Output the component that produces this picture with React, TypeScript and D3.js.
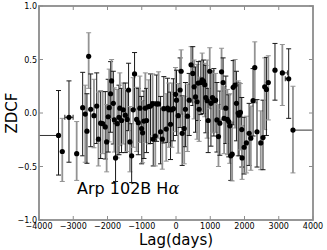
import React from "react";
import * as d3 from "d3";

// ZDCF points: lag (days), value, upper and lower error
const lags = [
  -3430, -3320, -3125, -2900, -2725, -2650, -2600, -2550, -2490, -2395,
  -2315, -2265, -2200, -2140, -2065, -2025, -1980, -1950, -1910, -1880,
  -1830, -1800, -1765, -1715, -1665, -1640, -1590, -1540, -1480, -1425,
  -1385, -1345, -1295, -1250, -1210, -1150, -1100, -1055, -1005, -975,
  -935, -895, -860, -800, -745, -685, -665, -605, -565, -510,
  -450, -400, -355, -285, -245, -210, -160, -120, -75, -15,
  15, 65, 120, 150, 180, 240, 275, 335, 385, 440,
  490, 530, 570, 615, 650, 675, 725, 765, 805, 840,
  870, 910, 940, 985, 1020, 1065, 1105, 1155, 1195, 1240,
  1280, 1330, 1375, 1405, 1455, 1500, 1540, 1570, 1600, 1640,
  1670, 1725, 1765, 1815, 1840, 1880, 1920, 1930, 1990, 2055,
  2135, 2185, 2250, 2300, 2365, 2475, 2540, 2590, 2640, 2695,
  2890, 3105, 3290, 3415,
];
const zdcf = [
  -0.21, -0.36, -0.04, -0.38, 0.05, -0.01, -0.17, 0.53, 0.035, -0.025,
  0.065, -0.245, -0.095, -0.1, -0.13, -0.27, -0.035, 0.05, 0.18, 0.3,
  0.09, -0.065, -0.42, -0.1, -0.04, 0.045, -0.07, 0.03, -0.02, -0.06,
  0.215, -0.27, -0.4, 0.03, 0.365, -0.06, -0.09, 0.045, -0.145, -0.185,
  -0.075, 0.045, -0.07, 0.06, 0.065, 0.085, -0.245, -0.215, 0.085, 0.085,
  -0.175, -0.245, 0.04, -0.15, 0.045, 0.03, -0.105, 0.03, 0.04, 0.175,
  0.12, -0.025, 0.215, 0.39, -0.19, -0.145, 0.035, -0.03, 0.12, 0.45,
  0.37, 0.245, 0.15, 0.105, 0.28, 0.035, 0.285, 0.31, 0.295, 0.265,
  0.145, 0.115, -0.07, 0.39, 0.09, 0.145, 0.115, 0.12, -0.065, -0.22,
  -0.095, 0.385, 0.285, -0.05, 0.045, -0.06, -0.08, -0.12, -0.4, -0.385,
  0.24, 0.26, 0.09, 0.0, -0.02, 0.005, -0.155, -0.42, -0.32, -0.28,
  -0.19, -0.235, 0.115, 0.425, -0.175, -0.28, -0.23, 0.245, 0.22, 0.285,
  0.4, 0.375, 0.32, -0.16,
];
const errUp = [
  0.42, 0.31, 0.34, 0.3, 0.33, 0.27, 0.35, 0.22, 0.33, 0.34,
  0.31, 0.44, 0.3, 0.3, 0.33, 0.35, 0.35, 0.36, 0.3, 0.2,
  0.3, 0.3, 0.32, 0.32, 0.3, 0.33, 0.3, 0.25, 0.3, 0.28,
  0.25, 0.33, 0.3, 0.3, 0.2, 0.3, 0.32, 0.3, 0.3, 0.3,
  0.28, 0.33, 0.3, 0.25, 0.3, 0.28, 0.35, 0.3, 0.27, 0.3,
  0.33, 0.3, 0.3, 0.33, 0.28, 0.25, 0.3, 0.25, 0.28, 0.25,
  0.28, 0.3, 0.3, 0.2, 0.35, 0.3, 0.25, 0.3, 0.25, 0.17,
  0.25, 0.25, 0.28, 0.35, 0.2, 0.3, 0.2, 0.25, 0.2, 0.2,
  0.3, 0.38, 0.3, 0.22, 0.3, 0.25, 0.3, 0.25, 0.35, 0.3,
  0.3, 0.22, 0.23, 0.3, 0.3, 0.28, 0.25, 0.3, 0.3, 0.3,
  0.25, 0.24, 0.3, 0.3, 0.3, 0.27, 0.3, 0.3, 0.28, 0.25,
  0.28, 0.3, 0.3, 0.24, 0.3, 0.3, 0.35, 0.27, 0.3, 0.25,
  0.25, 0.265, 0.28, 0.41,
];
const errDown = [
  0.37, 0.28, 0.42, 0.25, 0.45, 0.45, 0.3, 0.3, 0.35, 0.3,
  0.35, 0.25, 0.33, 0.28, 0.3, 0.28, 0.33, 0.32, 0.36, 0.35,
  0.38, 0.3, 0.22, 0.32, 0.35, 0.35, 0.3, 0.32, 0.35, 0.3,
  0.38, 0.28, 0.25, 0.35, 0.33, 0.3, 0.3, 0.32, 0.33, 0.28,
  0.35, 0.32, 0.3, 0.35, 0.35, 0.3, 0.25, 0.28, 0.35, 0.32,
  0.3, 0.28, 0.32, 0.3, 0.32, 0.35, 0.33, 0.35, 0.3, 0.35,
  0.33, 0.35, 0.35, 0.4, 0.3, 0.33, 0.35, 0.33, 0.33, 0.35,
  0.3, 0.3, 0.33, 0.35, 0.35, 0.3, 0.3, 0.3, 0.3, 0.3,
  0.33, 0.35, 0.3, 0.35, 0.4, 0.33, 0.33, 0.3, 0.3, 0.28,
  0.3, 0.35, 0.35, 0.33, 0.33, 0.33, 0.33, 0.35, 0.23, 0.25,
  0.35, 0.4, 0.35, 0.4, 0.38, 0.35, 0.35, 0.2, 0.25, 0.28,
  0.3, 0.3, 0.33, 0.33, 0.33, 0.25, 0.3, 0.4, 0.43, 0.35,
  0.28, 0.305, 0.37, 0.4,
];

// the few lag error bars that are wide enough to see
const lagBarIdx = [0, 2, 121, 122, 123];
const lagBarLeft = [600, 120, 0, 100, 0];
const lagBarRight = [0, 120, 150, 0, 600];

const xTicks = [-4000, -3000, -2000, -1000, 0, 1000, 2000, 3000, 4000];
const yTicks = [-1.0, -0.5, 0.0, 0.5, 1.0];

const W = 327;
const H = 250;
const margin = { top: 6, right: 14, bottom: 30, left: 39 };
const spine = "#8c8c8c";

export default function App() {
  const x = d3.scaleLinear().domain([-4000, 4000]).range([margin.left, W - margin.right]);
  const y = d3.scaleLinear().domain([-1, 1]).range([H - margin.bottom, margin.top]);
  const [x0, x1] = x.range();
  const [y0, y1] = [y(1), y(-1)];
  const fmtY = (v: number) => d3.format(".1f")(v).replace("-", "\u2212");
  const fmtX = (v: number) => String(v).replace("-", "\u2212");
  const font = "DejaVu Sans, sans-serif";

  return (
    <svg width={W} height={H} style={{ position: "absolute", left: 0, top: 0, background: "#fff" }}>
      <defs>
        <clipPath id="plot">
          <rect x={x0} y={y0} width={x1 - x0} height={y1 - y0} />
        </clipPath>
      </defs>
      <g clipPath="url(#plot)">
        {lags.map((l, i) => {
          const gray = i % 2 === 1;
          const c = gray ? "#939393" : "#1a1a1a";
          const cx = x(l);
          const top = y(zdcf[i] + errUp[i]);
          const bot = y(zdcf[i] - errDown[i]);
          return (
            <g key={i} stroke={c} strokeWidth={gray ? 1.8 : 1}>
              <line x1={cx} x2={cx} y1={top} y2={bot} />
              <line x1={cx - 2.5} x2={cx + 2.5} y1={top} y2={top} strokeWidth={1} />
              <line x1={cx - 2.5} x2={cx + 2.5} y1={bot} y2={bot} strokeWidth={1} />
            </g>
          );
        })}
        {lagBarIdx.map((idx, k) => {
          const cy = y(zdcf[idx]);
          const a = x(lags[idx] - lagBarLeft[k]);
          const b = x(lags[idx] + lagBarRight[k]);
          return (
            <g key={"h" + k} stroke={k % 2 ? "#1a1a1a" : "#333"} strokeWidth={1}>
              <line x1={a} x2={b} y1={cy} y2={cy} />
              {lagBarLeft[k] > 0 && <line x1={a} x2={a} y1={cy - 2.5} y2={cy + 2.5} />}
              {lagBarRight[k] > 0 && <line x1={b} x2={b} y1={cy - 2.5} y2={cy + 2.5} />}
            </g>
          );
        })}
        {lags.map((l, i) => (
          <circle key={"p" + i} cx={x(l)} cy={y(zdcf[i])} r={2.6} fill="#000" />
        ))}
      </g>

      {/* ticks, inward on all sides */}
      <g stroke={spine} strokeWidth={1}>
        {xTicks.map((t) => (
          <g key={"xt" + t}>
            <line x1={x(t)} x2={x(t)} y1={y1} y2={y1 - 4} />
            <line x1={x(t)} x2={x(t)} y1={y0} y2={y0 + 4} />
          </g>
        ))}
        {yTicks.map((t) => (
          <g key={"yt" + t}>
            <line x1={x0} x2={x0 + 4} y1={y(t)} y2={y(t)} />
            <line x1={x1} x2={x1 - 4} y1={y(t)} y2={y(t)} />
          </g>
        ))}
      </g>
      <rect x={x0} y={y0} width={x1 - x0} height={y1 - y0} fill="none" stroke={spine} strokeWidth={1.8} />

      <g fontFamily={font} fontSize={8} fill="#000">
        {xTicks.map((t) => (
          <text key={"xl" + t} x={x(t)} y={y1 + 9} textAnchor="middle">
            {fmtX(t)}
          </text>
        ))}
        {yTicks.map((t) => (
          <text key={"yl" + t} x={x0 - 2} y={y(t) + 3} textAnchor="end">
            {fmtY(t)}
          </text>
        ))}
      </g>

      <text x={(x0 + x1) / 2} y={245} textAnchor="middle" fontFamily={font} fontSize={15}>
        Lag(days)
      </text>
      <text
        transform={`translate(17, ${(y0 + y1) / 2}) rotate(-90)`}
        textAnchor="middle"
        fontFamily={font}
        fontSize={15}
      >
        ZDCF
      </text>
      <text x={77} y={194} fontFamily={font} fontSize={16}>
        Arp 102B H<tspan fontFamily="DejaVu Serif, serif" fontStyle="italic">α</tspan>
      </text>
    </svg>
  );
}
